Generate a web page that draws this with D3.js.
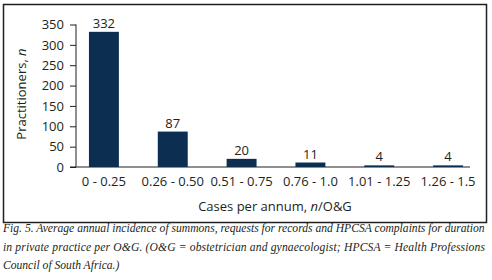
<!DOCTYPE html>
<html>
<head>
<meta charset="utf-8">
<script src="https://cdn.jsdelivr.net/npm/d3@7"></script>
<style>
body { margin: 0; background: #fff; }
svg text { fill: #231f20; }
</style>
</head>
<body>
<div id="chart"></div>
<script>
const categories = ['0 - 0.25', '0.26 - 0.50', '0.51 - 0.75', '0.76 - 1.0', '1.01 - 1.25', '1.26 - 1.5'];
const practitioners = [332, 87, 20, 11, 4, 4];
const yTicks = [0, 50, 100, 150, 200, 250, 300, 350];
const captionLines = [
  'Fig. 5. Average annual incidence of summons, requests for records and HPCSA complaints for duration',
  'in private practice per O&G. (O&G = obstetrician and gynaecologist; HPCSA = Health Professions',
  'Council of South Africa.)'
];

const width = 492, height = 280;
const barColor = '#0c2e50';
const sans = '"Open Sans", sans-serif';

const svg = d3.select('#chart')
              .append('svg')
              .attr('width', width)
              .attr('height', height);

// frame around the chart
svg.append('rect')
   .attr('x', 3.5).attr('y', 4.5)
   .attr('width', 483).attr('height', 218)
   .style('fill', 'none')
   .style('stroke', '#231f20')
   .style('stroke-width', 1.5);

let scaleX = d3.scaleBand().domain(categories).range([69.5, 482.5])
               .paddingInner(0.565).paddingOuter(0.2825);
let scaleY = d3.scaleLinear().domain([0, 350]).range([167, 24.5]);

let yAxis = d3.axisLeft(scaleY).tickValues(yTicks).tickSize(6).tickPadding(6);
let yAxisGroup = svg.append('g')
                    .attr('transform', 'translate(76,0)')
                    .call(yAxis);
yAxisGroup.select('.domain').remove();
yAxisGroup.selectAll('line').style('stroke', '#231f20');
yAxisGroup.selectAll('text')
          .style('font-family', sans)
          .style('font-size', '13px')
          .attr('fill', '#231f20');

// axis lines
svg.append('line')
   .attr('x1', 76).attr('x2', 76)
   .attr('y1', scaleY(350)).attr('y2', scaleY(0))
   .style('stroke', '#231f20');
svg.append('line')
   .attr('x1', 70).attr('x2', 470)
   .attr('y1', scaleY(0)).attr('y2', scaleY(0))
   .style('stroke', '#231f20').style('stroke-width', 1.2);

let xAxis = d3.axisBottom(scaleX).tickSize(0).tickPadding(10);
let xAxisGroup = svg.append('g')
                    .attr('transform', 'translate(0,' + scaleY(0) + ')')
                    .call(xAxis);
xAxisGroup.select('.domain').remove();
xAxisGroup.selectAll('text')
          .style('font-family', sans)
          .style('font-size', '13px')
          .attr('fill', '#231f20');

let bars = svg.selectAll('.bar')
              .data(practitioners)
              .enter()
              .append('rect')
              .attr('class', 'bar')
              .attr('x', (d, i) => scaleX(categories[i]))
              .attr('width', scaleX.bandwidth())
              .attr('y', d => scaleY(d))
              .attr('height', d => scaleY(0) - scaleY(d))
              .style('fill', barColor);

svg.selectAll('.val')
   .data(practitioners)
   .enter()
   .append('text')
   .attr('class', 'val')
   .attr('x', (d, i) => scaleX(categories[i]) + scaleX.bandwidth() / 2)
   .attr('y', d => scaleY(d) - 4)
   .style('text-anchor', 'middle')
   .style('font-family', sans)
   .style('font-size', '13px')
   .text(d => d);

// axis titles
let xTitle = svg.append('text')
                .attr('x', 275).attr('y', 211)
                .style('text-anchor', 'middle')
                .style('font-family', sans)
                .style('font-size', '13px');
xTitle.append('tspan').text('Cases per annum, ');
xTitle.append('tspan').style('font-style', 'italic').text('n');
xTitle.append('tspan').text('/O&G');

let yTitle = svg.append('text')
                .attr('transform', 'translate(26,94) rotate(-90)')
                .style('text-anchor', 'middle')
                .style('font-family', sans)
                .style('font-size', '13px');
yTitle.append('tspan').text('Practitioners, ');
yTitle.append('tspan').style('font-style', 'italic').text('n');

// caption: size the font so the first line fills the frame width,
// then justify the second line to the same width
const capY = [232, 250.5, 269];
const capW = 482;
let capTexts = captionLines.map((line, i) =>
  svg.append('text')
     .attr('x', 3).attr('y', capY[i])
     .style('font-family', '"Liberation Serif", serif')
     .style('font-style', 'italic')
     .style('font-size', '12px')
     .text(line));
let fs = 12 * capW / capTexts[0].node().getComputedTextLength();
capTexts.forEach(t => t.style('font-size', fs + 'px'));
let w2 = capTexts[1].node().getComputedTextLength();
if (w2 < capW) {
  capTexts[1].attr('textLength', capW).attr('lengthAdjust', 'spacing');
}
</script>
</body>
</html>
